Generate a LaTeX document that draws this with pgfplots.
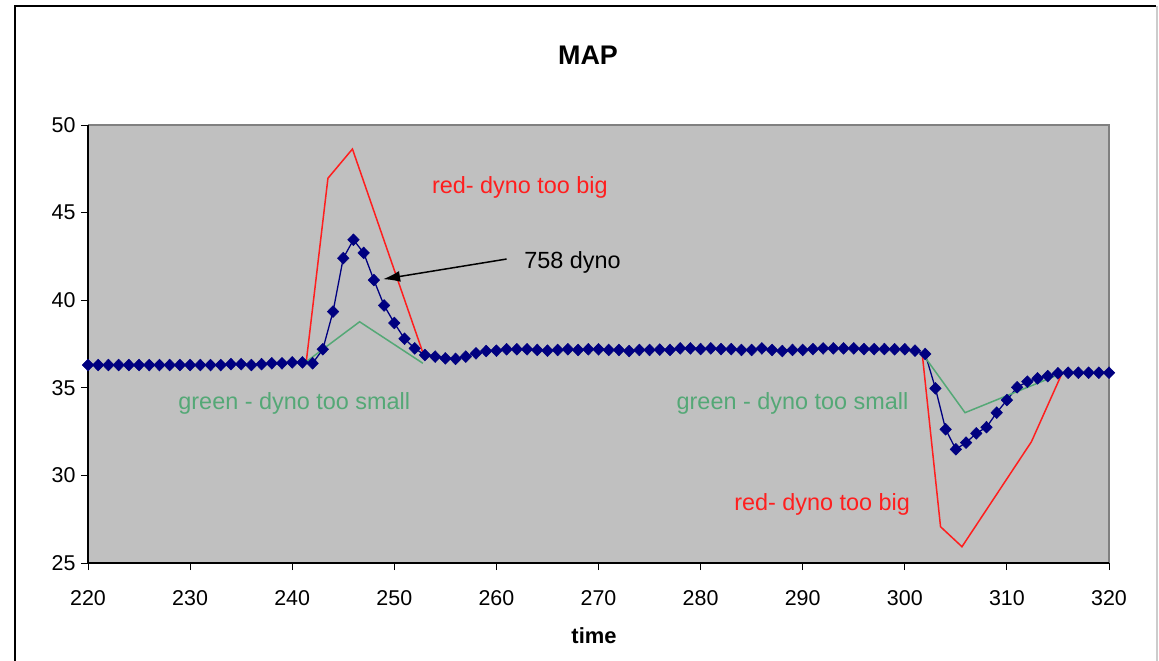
\documentclass[border=0pt]{standalone}
\usepackage{pgfplots}
\pgfplotsset{compat=1.18}
\usepackage{fontspec}
\setmainfont{Liberation Sans}
\usetikzlibrary{arrows.meta}

\definecolor{plotbg}{RGB}{192,192,192}
\definecolor{mapblue}{RGB}{0,0,128}
\definecolor{dynored}{RGB}{255,30,30}
\definecolor{dynogreen}{RGB}{84,168,118}
\definecolor{borderline}{RGB}{128,128,128}

\begin{document}
\begin{tikzpicture}
\begin{axis}[
  at={(88bp,-563bp)}, anchor=south west,
  width=1021bp, height=438bp, scale only axis,
  xmin=220, xmax=320, ymin=25, ymax=50,
  xtick={220,230,...,320}, ytick={25,30,...,50},
  axis line style={draw=none},
  axis background/.style={fill=plotbg},
  tick align=outside, xtick pos=bottom, ytick pos=left,
  major tick length=7bp,
  tick style={black, line width=1bp},
  /pgf/number format/assume math mode=true,
  /pgf/number format/1000 sep={},
  ticklabel style={font=\fontsize{21.5}{25}\selectfont},
  xticklabel style={yshift=-17bp},
  yticklabel style={xshift=-2bp},
  clip=false,
]
% plot area border: grey top/right, black axes left/bottom
\draw[borderline, line width=1.2bp] (rel axis cs:0,1) -- (rel axis cs:1,1) -- (rel axis cs:1,0);
\draw[black, line width=1.2bp] (rel axis cs:0,1) -- (rel axis cs:0,0) -- (rel axis cs:1,0);

% measured MAP
\addplot[mapblue, line width=1.3bp, mark=diamond*, mark size=5.9bp,
  mark options={fill=mapblue, draw=mapblue, line width=0.5bp, xscale=1.3}] coordinates {
(220,36.3)(221,36.3)(222,36.3)(223,36.3)(224,36.3)(225,36.3)(226,36.3)(227,36.3)
(228,36.3)(229,36.3)(230,36.3)(231,36.3)(232,36.3)(233,36.3)(234,36.35)(235,36.35)
(236,36.3)(237,36.35)(238,36.4)(239,36.4)(240,36.45)(241,36.45)(242,36.4)
(243,37.2)(244,39.35)(245,42.4)(246,43.45)(247,42.7)(248,41.15)(249,39.7)(250,38.7)
(251,37.8)(252,37.25)(253,36.87)(254,36.78)(255,36.68)(256,36.65)(257,36.78)(258,36.97)
(259,37.1)(260,37.12)(261,37.2)(262,37.2)(263,37.2)(264,37.16)(265,37.12)(266,37.16)
(267,37.2)(268,37.16)(269,37.2)(270,37.2)(271,37.16)(272,37.16)(273,37.1)(274,37.16)
(275,37.16)(276,37.18)(277,37.16)(278,37.25)(279,37.25)(280,37.21)(281,37.25)(282,37.21)
(283,37.21)(284,37.16)(285,37.16)(286,37.25)(287,37.16)(288,37.1)(289,37.16)(290,37.16)
(291,37.21)(292,37.25)(293,37.25)(294,37.25)(295,37.25)(296,37.21)(297,37.21)(298,37.21)
(299,37.2)(300,37.2)(301,37.12)(302,36.93)(303,34.97)(304,32.63)(305,31.49)(306,31.87)
(307,32.4)(308,32.75)(309,33.58)(310,34.3)(311,35.03)(312,35.35)(313,35.54)(314,35.67)
(315,35.83)(316,35.86)(317,35.86)(318,35.86)(319,35.86)(320,35.86)
};

% dyno too big
\addplot[dynored, line width=1.5bp] coordinates {
(241.4,36.6)(243.5,46.96)(245.9,48.63)(252.8,37.0)
};
\addplot[dynored, line width=1.5bp] coordinates {
(301.7,36.97)(303.5,27.07)(305.6,25.93)(312.4,31.92)(315.4,35.83)
};
% dyno too small
\addplot[dynogreen, line width=1.5bp] coordinates {
(241.4,36.5)(246.6,38.77)(252.8,36.4)
};
\addplot[dynogreen, line width=1.5bp] coordinates {
(301.7,36.97)(305.9,33.58)(315.4,35.83)
};

% annotations
\node[dynored, font=\fontsize{23.5}{28}\selectfont] at (axis cs:262.3,46.46) {red- dyno too big};
\node[dynored, font=\fontsize{23.5}{28}\selectfont] at (axis cs:291.9,28.37) {red- dyno too big};
\node[dynogreen, font=\fontsize{23.5}{28}\selectfont] at (axis cs:240.2,34.08) {green - dyno too small};
\node[dynogreen, font=\fontsize{23.5}{28}\selectfont] at (axis cs:289.0,34.08) {green - dyno too small};
\node[black, anchor=west, font=\fontsize{23.5}{28}\selectfont] at (axis cs:262.4,42.18) {758 dyno};
\draw[black, line width=1.5bp, -{Latex[length=17bp,width=11bp]}]
  (axis cs:261.0,42.35) -- (axis cs:248.9,41.2);
\end{axis}

% title and axis label
\node[font=\bfseries\fontsize{27}{32}\selectfont] at (588bp,-55bp) {MAP};
\node[font=\bfseries\fontsize{22}{26}\selectfont] at (594bp,-636bp) {time};

% outer frame
\draw[black, line width=1.5bp] (15bp,-661bp) -- (15bp,-6bp) -- (1156bp,-6bp);
\draw[gray!40, line width=1.5bp] (1157bp,-6bp) -- (1157bp,-661bp);

\pgfresetboundingbox
\useasboundingbox (0,0) rectangle (1159bp,-661bp);
\end{tikzpicture}
\end{document}
